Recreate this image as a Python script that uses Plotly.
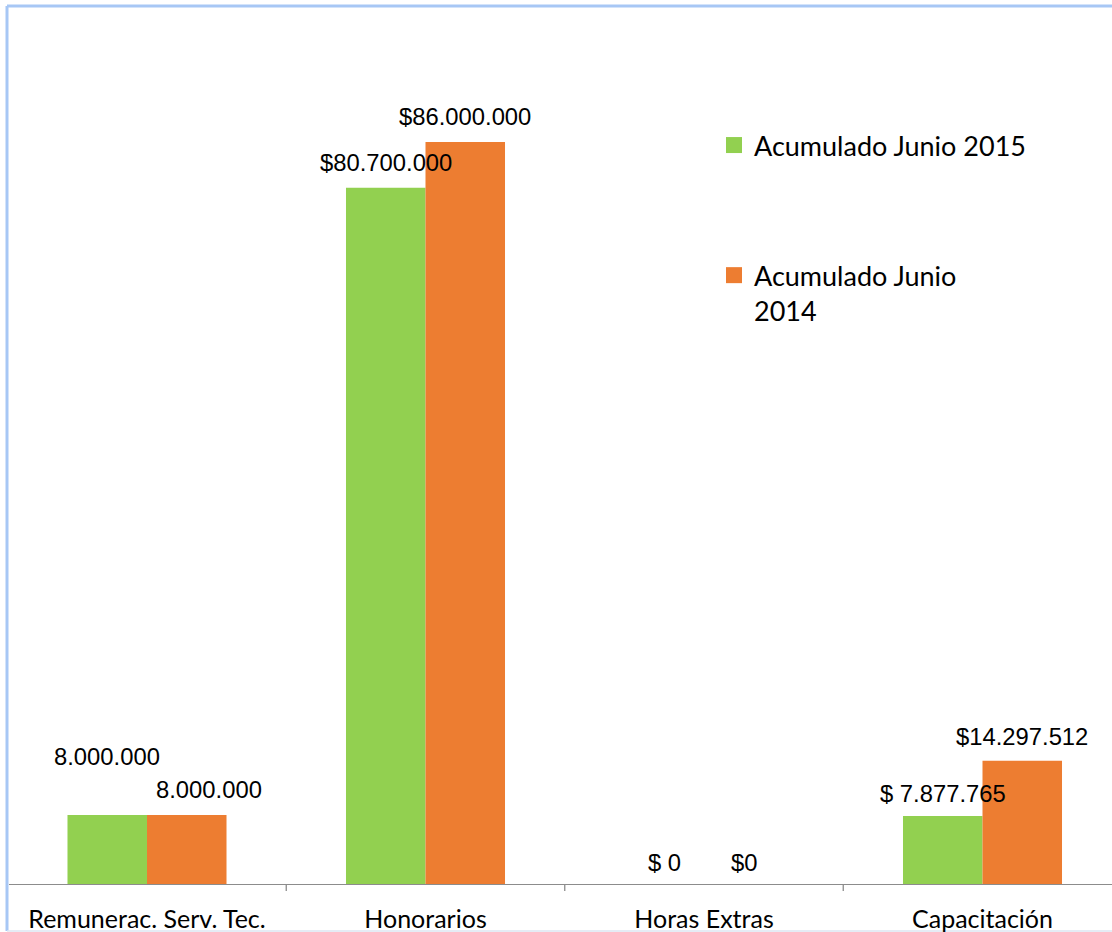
import plotly.graph_objects as go

categories = ["Remunerac. Serv. Tec.", "Honorarios", "Horas Extras", "Capacitación"]
series_names = ["Acumulado Junio 2015", "Acumulado Junio<br>2014"]
values_2015 = [8000000, 80700000, 0, 7877765]
values_2014 = [8000000, 86000000, 0, 14297512]
labels_2015 = ["8.000.000", "$80.700.000", "$ 0", "$ 7.877.765"]
labels_2014 = ["8.000.000", "$86.000.000", "$0", "$14.297.512"]

# label offsets (pixels) relative to bar top-centre
dx_2015 = [0, 0, 0, 0]
dy_2015 = [58, 25, 22, 23]
dx_2014 = [22, 0, 0, 0]
dy_2014 = [25, 25, 22, 24]

GREEN = "#92D050"
ORANGE = "#ED7D31"
BORDER = "#A7C7F5"

W, H = 1112, 932
ML, MR, MT, MB = 9, 0, 7, 48
pw = W - ML - MR
ph = H - MT - MB
step = 278.5
r0 = -(147 - ML) / step
r1 = r0 + pw / step

fig = go.Figure()
fig.add_trace(go.Bar(x=list(range(len(categories))), y=values_2015, name=series_names[0],
                     marker=dict(color=GREEN, line=dict(width=0)), showlegend=False))
fig.add_trace(go.Bar(x=list(range(len(categories))), y=values_2014, name=series_names[1],
                     marker=dict(color=ORANGE, line=dict(width=0)), showlegend=False))
# legend entries (square swatches)
for nm, col, grp in [(series_names[0], GREEN, "a"), (series_names[1], ORANGE, "b")]:
    fig.add_trace(go.Scatter(x=[None], y=[None], mode="markers", name=nm, legendgroup=grp,
                             marker=dict(symbol="square", size=16, color=col, line=dict(width=0)),
                             hoverinfo="skip"))

half = (1 - 0.429) / 4
lab_font = dict(family="Liberation Sans, Arial", size=23.8, color="#000")
annos = []
for i in range(len(categories)):
    annos.append(dict(x=i - half, y=values_2015[i], xref="x", yref="y", text=labels_2015[i],
                      showarrow=False, xshift=dx_2015[i], yshift=dy_2015[i], yanchor="middle",
                      font=lab_font))
    annos.append(dict(x=i + half, y=values_2014[i], xref="x", yref="y", text=labels_2014[i],
                      showarrow=False, xshift=dx_2014[i], yshift=dy_2014[i], yanchor="middle",
                      font=lab_font))

bx0 = (7 - ML) / pw
by1 = 1 + (MT - 6) / ph
by0 = -(931 - (H - MB)) / ph
fig.update_layout(
    width=W, height=H,
    margin=dict(l=ML, r=MR, t=MT, b=MB, autoexpand=False),
    paper_bgcolor="white", plot_bgcolor="rgba(0,0,0,0)",
    barmode="group", bargap=0.429, bargroupgap=0,
    showlegend=True,
    legend=dict(x=(714 - ML) / pw, y=1 - (121 - MT) / ph, xanchor="left", yanchor="top",
                font=dict(family="Lato, Carlito, sans-serif", size=27, color="#000"),
                traceorder="grouped", tracegroupgap=92, valign="top",
                itemsizing="trace", bgcolor="rgba(0,0,0,0)"),
    annotations=annos,
    shapes=[
        dict(type="line", xref="paper", yref="paper", x0=bx0, x1=bx0, y0=by0, y1=by1,
             line=dict(color=BORDER, width=3), layer="below"),
        dict(type="line", xref="paper", yref="paper", x0=bx0, x1=1.02, y0=by1, y1=by1,
             line=dict(color=BORDER, width=3), layer="below"),
        dict(type="line", xref="paper", yref="paper", x0=bx0, x1=1.02, y0=by0, y1=by0,
             line=dict(color="#DCE6F2", width=1.5), layer="below"),
    ],
)
fig.update_xaxes(
    range=[r0, r1], tickmode="array", tickvals=list(range(len(categories))), ticktext=categories,
    showline=True, linecolor="#8C8C8C", linewidth=1.3, showgrid=False, zeroline=False,
    ticks="", tickfont=dict(family="Lato, Carlito, sans-serif", size=25, color="#000"),
    ticklabelstandoff=13,
)
fig.update_yaxes(range=[0, (H - MB - MT) / 8.628 * 1e6], visible=False, showgrid=False, zeroline=False)

# boundary tick marks between categories
for b in [0.5, 1.5, 2.5]:
    fig.add_shape(type="line", xref="x", yref="paper", x0=b, x1=b, y0=0, y1=-7 / ph,
                  line=dict(color="#8C8C8C", width=1.3))

fig.write_html("out.html", config={"displayModeBar": False},
               post_script="document.body.style.margin='0';document.body.style.overflow='hidden';")
